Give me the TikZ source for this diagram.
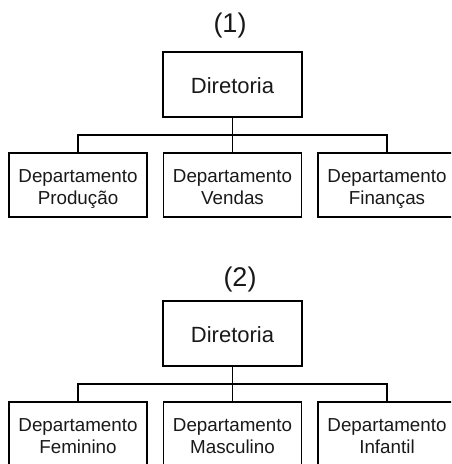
\documentclass[tikz,border=0pt]{standalone}
\usepackage{fontspec}
\setmainfont{Liberation Sans}
\newcommand{\topstrut}{\rule{0pt}{23pt}}
\newcommand{\botstrut}{\rule[-6pt]{0pt}{6pt}}
\begin{document}
\begin{tikzpicture}[x=1pt,y=-1pt,line width=1.1pt,
  box/.style={draw, inner sep=0pt, align=center, text=black!90},
  topbox/.style={box, minimum width=139pt, minimum height=65pt, text height=17pt, text depth=0pt, font=\fontsize{22}{26}\selectfont},
  deptbox/.style={box, minimum width=138pt, minimum height=64pt, font=\fontsize{18.8}{22}\selectfont},
  title/.style={font=\fontsize{27}{32}\selectfont, inner sep=0pt, anchor=base, text=black!90}]
\useasboundingbox (0,0) rectangle (451,464);
\clip (0,0) rectangle (451,464);
% panel 1
\node[title] (t1) at (230,32.7) {(1)};
\node[topbox] (d1) at (232.5,84.5) {Diretoria};
\node[deptbox] (a1) at (78,185) {\topstrut Departamento\\\botstrut Produção};
\node[deptbox] (b1) at (232.5,185) {\topstrut Departamento\\\botstrut Vendas};
\node[deptbox] (c1) at (387,185) {\topstrut Departamento\\\botstrut Finanças};
\coordinate (bar1) at (232.5,135);
\draw (d1.south) -- (b1.north);
\draw (a1.north) -- (a1.north |- bar1) -- (c1.north |- bar1) -- (c1.north);
% panel 2
\node[title] (t2) at (240,286.7) {(2)};
\node[topbox] (d2) at (232.5,333.5) {Diretoria};
\node[deptbox] (a2) at (78,434) {\topstrut Departamento\\\botstrut Feminino};
\node[deptbox] (b2) at (232.5,434) {\topstrut Departamento\\\botstrut Masculino};
\node[deptbox] (c2) at (387,434) {\topstrut Departamento\\\botstrut Infantil};
\coordinate (bar2) at (232.5,384);
\draw (d2.south) -- (b2.north);
\draw (a2.north) -- (a2.north |- bar2) -- (c2.north |- bar2) -- (c2.north);
\end{tikzpicture}
\end{document}
